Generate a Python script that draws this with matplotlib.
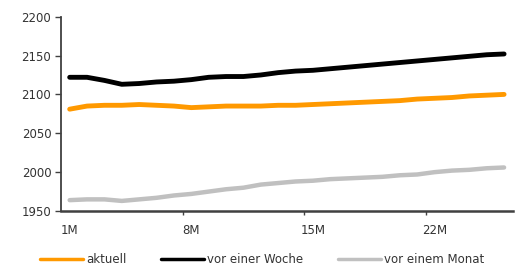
import matplotlib
matplotlib.use("Agg")
import matplotlib.pyplot as plt
from matplotlib.ticker import FixedLocator, MultipleLocator

plt.rcParams["font.family"] = ["DejaVu Sans"]

# categories 1M .. 26M
categories = [f"{i}M" for i in range(1, 27)]
tick_labels = ["1M", "8M", "15M", "22M"]

aktuell = [2081, 2085, 2086, 2086, 2087, 2086, 2085, 2083, 2084, 2085,
           2085, 2085, 2086, 2086, 2087, 2088, 2089, 2090, 2091, 2092,
           2094, 2095, 2096, 2098, 2099, 2100]
vor_woche = [2122, 2122, 2118, 2113, 2114, 2116, 2117, 2119, 2122, 2123,
             2123, 2125, 2128, 2130, 2131, 2133, 2135, 2137, 2139, 2141,
             2143, 2145, 2147, 2149, 2151, 2152]
vor_monat = [1964, 1965, 1965, 1963, 1965, 1967, 1970, 1972, 1975, 1978,
             1980, 1984, 1986, 1988, 1989, 1991, 1992, 1993, 1994, 1996,
             1997, 2000, 2002, 2003, 2005, 2006]

TEXT = "#333333"
AXIS = "#404040"
FS = 8.5

fig = plt.figure(figsize=(5.19, 2.73), dpi=100)
ax = fig.add_axes([0.1175, 0.227, 0.8705, 0.712])

x = list(range(len(categories)))
l1, = ax.plot(x, aktuell, color="#FF9900", lw=3.5, solid_capstyle="round", label="aktuell")
l2, = ax.plot(x, vor_woche, color="black", lw=3.5, solid_capstyle="round", label="vor einer Woche")
l3, = ax.plot(x, vor_monat, color="#C0C0C0", lw=3.2, solid_capstyle="round", label="vor einem Monat")

ax.set_xlim(-0.5, len(categories) - 0.5)
ax.set_ylim(1950, 2200)
ax.yaxis.set_major_locator(MultipleLocator(50))

# labels centred on categories, tick marks on category boundaries
ax.xaxis.set_major_locator(FixedLocator([categories.index(t) for t in tick_labels]))
ax.set_xticklabels(tick_labels)
ax.xaxis.set_minor_locator(FixedLocator([6.5, 13.5, 20.5]))
ax.tick_params(axis="x", which="major", length=0, pad=9, labelsize=FS, labelcolor=TEXT)
ax.tick_params(axis="x", which="minor", length=3, width=1, color=AXIS, direction="out")
ax.tick_params(axis="y", length=4, width=1, color=AXIS, pad=3, labelsize=FS, labelcolor=TEXT)

for s in ["top", "right"]:
    ax.spines[s].set_visible(False)
ax.spines["left"].set_color(AXIS)
ax.spines["left"].set_linewidth(1.3)
ax.spines["bottom"].set_color(AXIS)
ax.spines["bottom"].set_linewidth(1.8)

fig.legend(handles=[l1, l2, l3], loc="center", bbox_to_anchor=(0.505, 0.05),
           ncol=3, frameon=False, fontsize=FS, handlelength=3.7, handletextpad=0.25,
           columnspacing=2.9, labelcolor=TEXT)
for h in fig.legends[0].legend_handles:
    h.set_linewidth(2.5)

fig.savefig("out.png", dpi=100)
